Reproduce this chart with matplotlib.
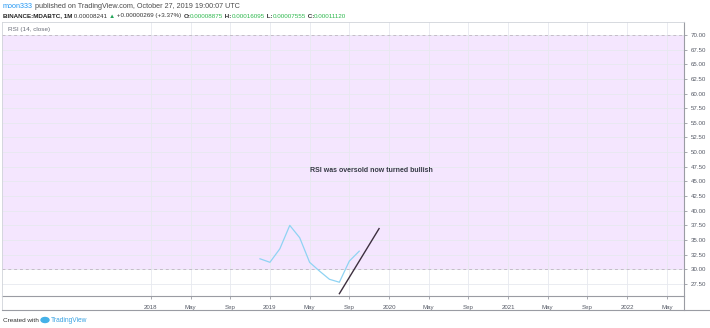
import numpy as np
import pandas as pd
import matplotlib.pyplot as plt
from matplotlib.patches import Ellipse
from matplotlib.lines import Line2D

plt.rcParams["font.family"] = ["Liberation Sans", "DejaVu Sans"]

# -----------------------------------
# Data
# -----------------------------------
rsi_months = ["2018-12", "2019-01", "2019-02", "2019-03", "2019-04", "2019-05",
              "2019-06", "2019-07", "2019-08", "2019-09", "2019-10"]
rsi_values = [31.8, 31.2, 33.5, 37.5, 35.4, 31.2, 29.7, 28.3, 27.8, 31.4, 33.1]

trend_months = ["2019-08", "2019-12"]
trend_values = [25.85, 36.95]

tick_months = ["2018-01", "2018-05", "2018-09", "2019-01", "2019-05", "2019-09",
               "2020-01", "2020-05", "2020-09", "2021-01", "2021-05", "2021-09",
               "2022-01", "2022-05"]
tick_labels = ["2018", "May", "Sep", "2019", "May", "Sep", "2020", "May", "Sep",
               "2021", "May", "Sep", "2022", "May"]

y_ticks = np.arange(27.5, 70.01, 2.5)

note_text = "RSI was oversold now turned bullish"
note_month = "2019-11"
note_value = 46.8

BASE = pd.Period("2018-01", freq="M")


def month_idx(labels):
    return np.array([(pd.Period(s, freq="M") - BASE).n for s in labels], dtype=float)


# -----------------------------------
# Figure
# -----------------------------------
W, H = 710, 328
fig = plt.figure(figsize=(W / 100, H / 100), dpi=100)
fig.patch.set_facecolor("white")

ax_l, ax_r, ax_t, ax_b = 2, 684, 22, 296
ax = fig.add_axes([ax_l / W, 1 - ax_b / H, (ax_r - ax_l) / W, (ax_b - ax_t) / H])

ax.set_xlim(-15.0, 53.73)
ax.set_ylim(25.45, 72.2)

# band
ax.axhspan(30, 70, color="#f4e6fe", zorder=0, lw=0)
ax.axhline(30, color="#c4bcc8", lw=0.7, ls=(0, (3, 3)), zorder=1)
ax.axhline(70, color="#c4bcc8", lw=0.7, ls=(0, (3, 3)), zorder=1)

# grid
xt = month_idx(tick_months)
for x in xt:
    ax.axvline(x, color="#e6e9ef", lw=0.6, zorder=0.5)
for y in y_ticks:
    ax.axhline(y, color="#e6e9ef", lw=0.6, zorder=0.5)

# series
ax.plot(month_idx(rsi_months), rsi_values, color="#8fd3f3", lw=0.9, zorder=3)
ax.plot(month_idx(trend_months), trend_values, color="#3d2f3f", lw=1.0, zorder=4)

ax.text(month_idx([note_month])[0] + 0.2, note_value, note_text, fontsize=5.0,
        fontweight="bold", color="#363a45", ha="center", va="center", zorder=5)

ax.text(0.009, (ax_b - 29) / (ax_b - ax_t), "RSI (14, close)", transform=ax.transAxes,
        fontsize=4.6, color="#6b6f7a", ha="left", va="center")

# axes styling
for s in ["top", "left"]:
    ax.spines[s].set_visible(False)
for s in ["right", "bottom"]:
    ax.spines[s].set_color("#9a9ca3")
    ax.spines[s].set_linewidth(0.8)

ax.yaxis.tick_right()
ax.set_yticks(y_ticks)
ax.set_yticklabels([f"{v:.2f}" for v in y_ticks])
ax.tick_params(axis="y", labelsize=4.4, labelcolor="#555a66", color="#9a9ca3",
               length=2, width=0.6, pad=3)
ax.set_xticks(xt)
ax.set_xticklabels(tick_labels)
ax.tick_params(axis="x", labelsize=4.4, labelcolor="#555a66", color="#9a9ca3",
               length=2, width=0.6, pad=4.5)

# outer frame lines
fig.add_artist(Line2D([ax_l / W, ax_l / W], [1 - 310 / H, 1 - ax_t / H],
                      color="#d0d3d9", lw=0.6))
fig.add_artist(Line2D([ax_l / W, ax_r / W], [1 - ax_t / H, 1 - ax_t / H],
                      color="#d0d3d9", lw=0.6))
fig.add_artist(Line2D([ax_l / W, 709 / W], [1 - 310 / H, 1 - 310 / H],
                      color="#9a9ca3", lw=0.8))
fig.add_artist(Line2D([ax_r / W, ax_r / W], [1 - 310 / H, 1 - ax_b / H],
                      color="#9a9ca3", lw=0.8))

# -----------------------------------
# Header
# -----------------------------------
fig.canvas.draw()
renderer = fig.canvas.get_renderer()


def text_run(x0, y, parts, fs):
    x = x0
    for txt, col, wt in parts:
        tt = fig.text(x, y, txt, fontsize=fs, color=col, fontweight=wt, va="center")
        bb = tt.get_window_extent(renderer=renderer)
        x += bb.width / W
    return x


text_run(3 / W, 1 - 6 / H, [
    ("moon333", "#2196f3", "normal"),
    (" published on TradingView.com, October 27, 2019 19:00:07 UTC", "#4a4a4a", "normal"),
], 5.2)

text_run(3 / W, 1 - 16 / H, [
    ("BINANCE:MDABTC, 1M", "#222222", "bold"),
    (" 0.00008241 ", "#333333", "normal"),
    ("\u25b2", "#26a65b", "normal"),
    (" +0.00000269 (+3.37%) ", "#333333", "normal"),
    ("O:", "#333333", "bold"),
    ("0.00008875", "#2db84d", "normal"),
    (" H:", "#333333", "bold"),
    ("0.00016095", "#2db84d", "normal"),
    (" L:", "#333333", "bold"),
    ("0.00007555", "#2db84d", "normal"),
    (" C:", "#333333", "bold"),
    ("0.00011120", "#2db84d", "normal"),
], 4.5)

# -----------------------------------
# Footer
# -----------------------------------
fig.text(3 / W, 1 - 320 / H, "Created with", fontsize=4.6, color="#333333", va="center")
fig.add_artist(Ellipse((45 / W, 1 - 320 / H), 8 / W, 5 / H, color="#45b1e8"))
fig.text(51 / W, 1 - 320 / H, "TradingView", fontsize=4.8, color="#3aa3e3", va="center")

fig.savefig("out.png", dpi=100)
